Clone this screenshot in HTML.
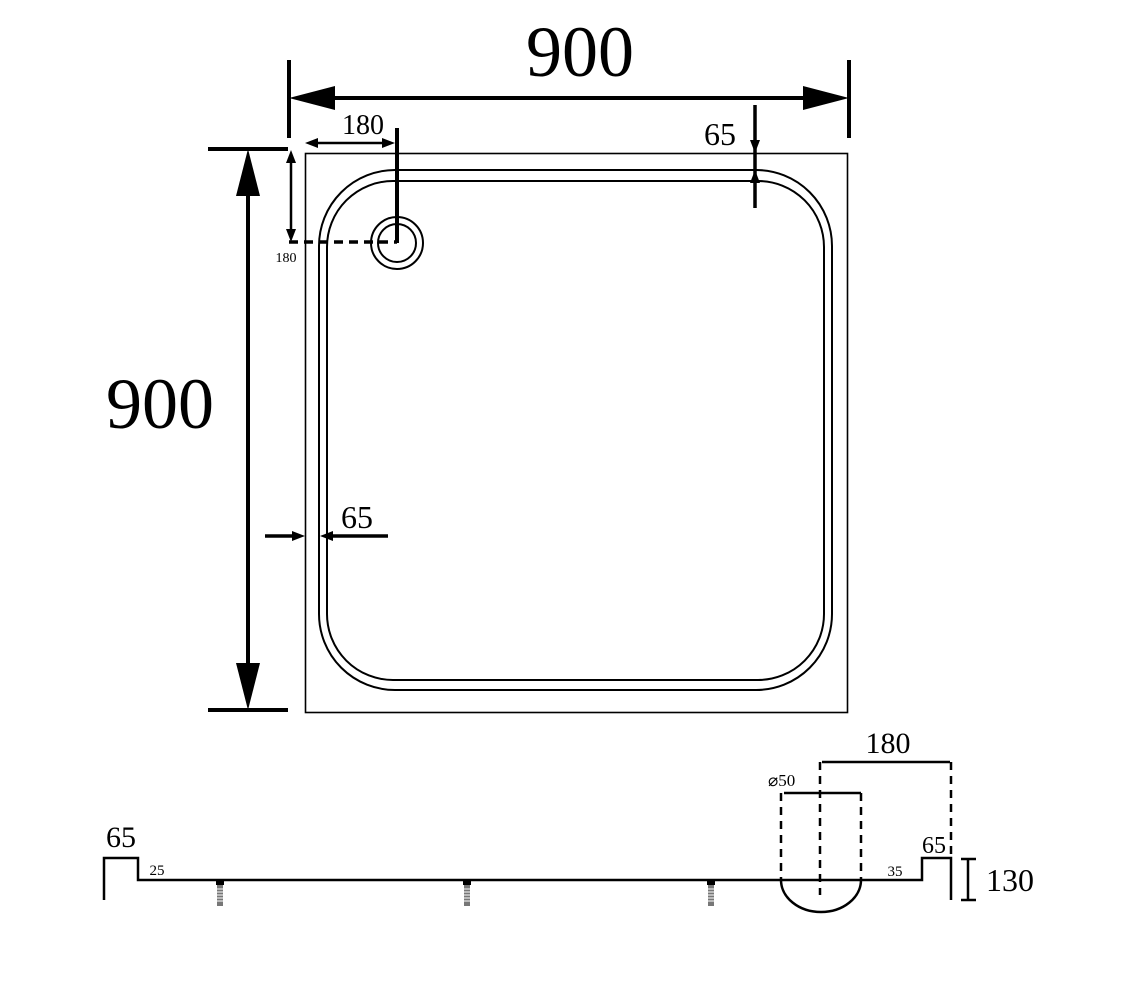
<!DOCTYPE html>
<html><head><meta charset="utf-8"><style>
html,body{margin:0;padding:0;background:#fff;}
svg{display:block;}
text{font-family:"Liberation Serif",serif;fill:#000;}
</style></head><body>
<svg width="1125" height="1000" viewBox="0 0 1125 1000" xmlns="http://www.w3.org/2000/svg">
<defs>
<g id="bolt">
<rect x="-4" y="0" width="8" height="4" fill="#000"/>
<rect x="-3" y="4" width="6" height="21" fill="#777"/>
<path d="M-3 8h6M-3 11h6M-3 14h6M-3 17h6M-3 20h6" stroke="#fff" stroke-width="1"/>
</g>
</defs>
<g fill="none" stroke="#000">
<!-- tray -->
<rect x="305.5" y="153.5" width="542" height="559" stroke-width="1.6"/>
<rect x="319" y="170" width="513" height="520" rx="76" stroke-width="2"/>
<rect x="327" y="181" width="497" height="499" rx="66" stroke-width="2"/>
<circle cx="397" cy="243" r="26" stroke-width="2"/>
<circle cx="397" cy="243" r="19" stroke-width="2"/>
<!-- top 900 -->
<path d="M289 60V138M849 60V138" stroke-width="4"/>
<path d="M330 98H805" stroke-width="4"/>
<!-- left 900 -->
<path d="M208 149H288M208 710H288" stroke-width="4"/>
<path d="M248 190V670" stroke-width="4"/>
<!-- 180 top -->
<path d="M312 143H388" stroke-width="2.5"/>
<path d="M397 128V243" stroke-width="4"/>
<!-- 180 left -->
<path d="M291 158V234" stroke-width="2.5"/>
<path d="M289 242H397" stroke-width="3.5" stroke-dasharray="9,6"/>
<!-- 65 top right -->
<path d="M755 105V208" stroke-width="3.5"/>
<!-- 65 left -->
<path d="M265 536H298M327 536H388" stroke-width="3.5"/>
<!-- profile -->
<path d="M104 900V858H138V880H922V858H951V900" stroke-width="2.5"/>
<path d="M781 880A40 32 0 0 0 861 880" stroke-width="2.5"/>
<path d="M781 793V880M861 793V880M820 762V895M951 762V855" stroke-width="2.5" stroke-dasharray="8,6"/>
<path d="M784 793H861M822 762H950" stroke-width="2.5"/>
<path d="M968 859V900M961 859H976M961 900H976" stroke-width="2.5"/>
</g>
<g fill="#000">
<polygon points="289,98 335,86 335,110"/>
<polygon points="849,98 803,86 803,110"/>
<polygon points="248,149 236,196 260,196"/>
<polygon points="248,710 236,663 260,663"/>
<polygon points="305,143 318,138 318,148"/>
<polygon points="395,143 382,138 382,148"/>
<polygon points="291,150 286,163 296,163"/>
<polygon points="291,242 286,229 296,229"/>
<polygon points="755,153 750,140 760,140"/>
<polygon points="755,170 750,183 760,183"/>
<polygon points="305,536 292,531 292,541"/>
<polygon points="320,536 333,531 333,541"/>
</g>
<use href="#bolt" x="220" y="881"/>
<use href="#bolt" x="467" y="881"/>
<use href="#bolt" x="711" y="881"/>
<text x="580" y="76" font-size="72" text-anchor="middle">900</text>
<text x="160" y="428" font-size="72" text-anchor="middle">900</text>
<text x="363" y="134" font-size="28" text-anchor="middle">180</text>
<text x="286" y="262" font-size="14" text-anchor="middle">180</text>
<text x="720" y="145" font-size="32" text-anchor="middle">65</text>
<text x="357" y="528" font-size="32" text-anchor="middle">65</text>
<text x="121" y="847" font-size="30" text-anchor="middle">65</text>
<text x="157" y="875" font-size="15" text-anchor="middle">25</text>
<text x="895" y="876" font-size="15" text-anchor="middle">35</text>
<text x="934" y="853" font-size="24" text-anchor="middle">65</text>
<text x="888" y="753" font-size="30" text-anchor="middle">180</text>
<text x="768" y="786" font-size="17" font-family="Liberation Sans,sans-serif">⌀50</text>
<text x="1010" y="891" font-size="32" text-anchor="middle">130</text>
</svg>
</body></html>
